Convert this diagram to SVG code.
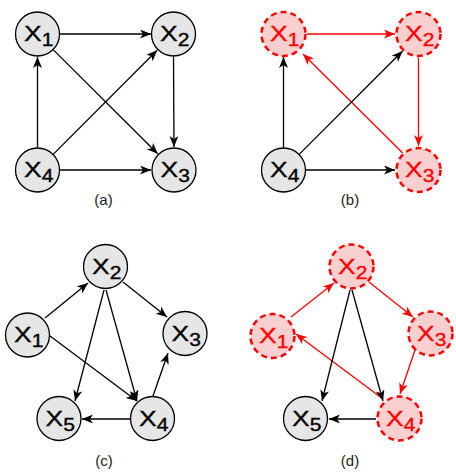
<svg xmlns="http://www.w3.org/2000/svg" width="456" height="472" viewBox="0 0 456 472">
<defs>
<style>
.n circle{fill:#e6e6e6;stroke:#000;stroke-width:1.3}
.r circle{fill:#f9d0cf;stroke:#f00;stroke-width:2.5;stroke-dasharray:6 4}
.n text,.r text{font-family:"Liberation Sans",Arial,sans-serif;font-size:22px;text-anchor:middle;stroke-width:0.35}
.n text{fill:#000;stroke:#000}
.r text{fill:#f00;stroke:#f00}
.s{font-size:17.5px}
.e line{stroke:#000;stroke-width:1.3;fill:none;marker-end:url(#ab)}
.e line.red{stroke:#f00;marker-end:url(#ar)}
.lab{font-family:"Liberation Sans",Arial,sans-serif;font-size:15px;fill:#222;text-anchor:middle}
</style>
<marker id="ab" markerUnits="userSpaceOnUse" markerWidth="12" markerHeight="10" refX="11" refY="4.5" orient="auto" viewBox="0 0 12 10">
<path d="M0,0 L11,4.5 L0,9 L3,4.5 z" fill="#000"/>
</marker>
<marker id="ar" markerUnits="userSpaceOnUse" markerWidth="12" markerHeight="10" refX="11" refY="4.5" orient="auto" viewBox="0 0 12 10">
<path d="M0,0 L11,4.5 L0,9 L3,4.5 z" fill="#f00"/>
</marker>
</defs>

<g id="edges" class="e">
<!-- (a) -->
<line x1="60" y1="34" x2="151" y2="34"/>
<line x1="60" y1="170" x2="151" y2="170"/>
<line x1="37.5" y1="147.5" x2="37.5" y2="57"/>
<line x1="173.5" y1="56.5" x2="174" y2="147"/>
<line x1="53.4" y1="49.9" x2="157.7" y2="153.8"/>
<line x1="53.4" y1="154.1" x2="157.2" y2="50.3"/>
<!-- (b) -->
<line class="red" x1="307" y1="34" x2="395" y2="34"/>
<line class="red" x1="418.5" y1="57.5" x2="418.5" y2="146"/>
<line class="red" x1="402.7" y1="153" x2="303" y2="54"/>
<line x1="283.5" y1="147.5" x2="283.5" y2="57"/>
<line x1="299.4" y1="154.1" x2="402.6" y2="51"/>
<line x1="306" y1="170" x2="395" y2="170"/>
<!-- (c) -->
<line x1="45" y1="318" x2="88" y2="283"/>
<line x1="50" y1="336" x2="137" y2="401"/>
<line x1="123" y1="282" x2="167" y2="317"/>
<line x1="104" y1="290" x2="75" y2="401"/>
<line x1="106" y1="290" x2="137" y2="401"/>
<line x1="153" y1="396" x2="168" y2="353"/>
<line x1="130" y1="419" x2="82" y2="419"/>
<!-- (d) -->
<line class="red" x1="291" y1="317" x2="334" y2="283"/>
<line class="red" x1="369" y1="282" x2="413" y2="317"/>
<line class="red" x1="415" y1="350" x2="400" y2="394"/>
<line class="red" x1="383" y1="399" x2="296" y2="334"/>
<line x1="350" y1="290" x2="322" y2="401"/>
<line x1="352" y1="290" x2="383" y2="401"/>
<line x1="376" y1="419" x2="329" y2="419"/>
</g>

<!-- (a) nodes -->
<g id="a-x1" class="n"><circle cx="37.5" cy="34" r="22"/><text transform="translate(37.5,34) scale(1.2,1)" x="1" y="7">X<tspan class="s" dy="5">1</tspan></text></g>
<g id="a-x2" class="n"><circle cx="173.5" cy="34" r="22"/><text transform="translate(173.5,34) scale(1.2,1)" x="1" y="7">X<tspan class="s" dy="5">2</tspan></text></g>
<g id="a-x3" class="n"><circle cx="174" cy="170" r="22"/><text transform="translate(174,170) scale(1.2,1)" x="1" y="7">X<tspan class="s" dy="5">3</tspan></text></g>
<g id="a-x4" class="n"><circle cx="37.5" cy="170" r="22"/><text transform="translate(37.5,170) scale(1.2,1)" x="1" y="7">X<tspan class="s" dy="5">4</tspan></text></g>

<!-- (b) nodes -->
<g id="b-x1" class="r"><circle cx="283.5" cy="34" r="22"/><text transform="translate(283.5,34) scale(1.2,1)" x="1" y="7">X<tspan class="s" dy="5">1</tspan></text></g>
<g id="b-x2" class="r"><circle cx="418.5" cy="34" r="22"/><text transform="translate(418.5,34) scale(1.2,1)" x="1" y="7">X<tspan class="s" dy="5">2</tspan></text></g>
<g id="b-x3" class="r"><circle cx="418.5" cy="170" r="22"/><text transform="translate(418.5,170) scale(1.2,1)" x="1" y="7">X<tspan class="s" dy="5">3</tspan></text></g>
<g id="b-x4" class="n"><circle cx="283.5" cy="170" r="22"/><text transform="translate(283.5,170) scale(1.2,1)" x="1" y="7">X<tspan class="s" dy="5">4</tspan></text></g>

<!-- (c) nodes -->
<g id="c-x1" class="n"><circle cx="27.5" cy="335" r="22"/><text transform="translate(27.5,335) scale(1.2,1)" x="1" y="7">X<tspan class="s" dy="5">1</tspan></text></g>
<g id="c-x2" class="n"><circle cx="105.5" cy="266.5" r="22"/><text transform="translate(105.5,266.5) scale(1.2,1)" x="1" y="7">X<tspan class="s" dy="5">2</tspan></text></g>
<g id="c-x3" class="n"><circle cx="185" cy="333.5" r="22"/><text transform="translate(185,333.5) scale(1.2,1)" x="1" y="7">X<tspan class="s" dy="5">3</tspan></text></g>
<g id="c-x4" class="n"><circle cx="152.5" cy="418.5" r="22"/><text transform="translate(152.5,418.5) scale(1.2,1)" x="1" y="7">X<tspan class="s" dy="5">4</tspan></text></g>
<g id="c-x5" class="n"><circle cx="59" cy="418.5" r="22"/><text transform="translate(59,418.5) scale(1.2,1)" x="1" y="7">X<tspan class="s" dy="5">5</tspan></text></g>

<!-- (d) nodes -->
<g id="d-x1" class="r"><circle cx="272.5" cy="336" r="22"/><text transform="translate(272.5,336) scale(1.2,1)" x="1" y="7">X<tspan class="s" dy="5">1</tspan></text></g>
<g id="d-x2" class="r"><circle cx="351.5" cy="266.5" r="22"/><text transform="translate(351.5,266.5) scale(1.2,1)" x="1" y="7">X<tspan class="s" dy="5">2</tspan></text></g>
<g id="d-x3" class="r"><circle cx="430.5" cy="333.5" r="22"/><text transform="translate(430.5,333.5) scale(1.2,1)" x="1" y="7">X<tspan class="s" dy="5">3</tspan></text></g>
<g id="d-x4" class="r"><circle cx="399.5" cy="418.5" r="22"/><text transform="translate(399.5,418.5) scale(1.2,1)" x="1" y="7">X<tspan class="s" dy="5">4</tspan></text></g>
<g id="d-x5" class="n"><circle cx="305.5" cy="418.5" r="22"/><text transform="translate(305.5,418.5) scale(1.2,1)" x="1" y="7">X<tspan class="s" dy="5">5</tspan></text></g>

<g id="labels">
<text class="lab" x="103.5" y="205">(a)</text>
<text class="lab" x="350" y="205">(b)</text>
<text class="lab" x="104" y="466">(c)</text>
<text class="lab" x="350" y="466">(d)</text>
</g>
</svg>
